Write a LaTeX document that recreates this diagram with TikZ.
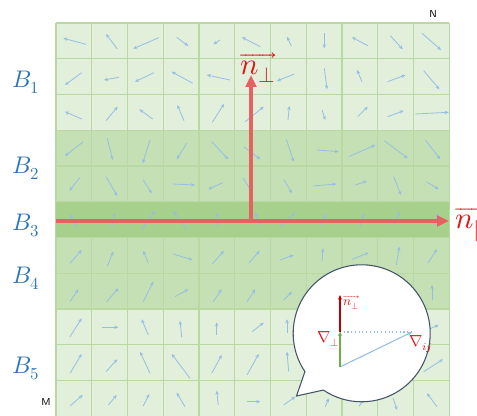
\documentclass[tikz,border=0pt]{standalone}
\usepackage{unicode-math}
\usetikzlibrary{arrows.meta}
\definecolor{cellL}{RGB}{226,239,218}
\definecolor{cellM}{RGB}{197,224,180}
\definecolor{cellD}{RGB}{167,208,140}
\definecolor{gridc}{RGB}{184,218,162}
\definecolor{vecc}{RGB}{150,190,228}
\definecolor{bigred}{RGB}{230,98,98}
\definecolor{labred}{RGB}{224,20,20}
\definecolor{bblue}{RGB}{46,117,182}
\definecolor{dred}{RGB}{192,0,0}
\definecolor{gline}{RGB}{112,173,71}
\definecolor{bubline}{RGB}{68,84,106}
\begin{document}
\begin{tikzpicture}[x=0.75pt,y=0.75pt,
  vec/.style={draw=vecc,line width=0.6pt,-{Stealth[length=3pt,width=2.6pt]}},
  gridline/.style={draw=gridc,line width=1pt},
  bigarrow/.style={draw=bigred,line width=3pt,-{Triangle[length=9pt,width=8pt]}},
  blabel/.style={text=bblue,inner sep=0pt,anchor=base west,font=\fontsize{18}{20}\selectfont},
  redlabel/.style={text=labred,inner sep=0pt,anchor=base west},
  corner/.style={inner sep=0pt,font=\sffamily\fontsize{7.5}{9}\selectfont},
  bubble/.style={draw=bubline,fill=white,line width=0.8pt}]
\useasboundingbox (0,0) rectangle (477,416);
\begin{scope}
\clip (0,0) rectangle (477,416);
% bands
\fill[cellL] (56,-0.25) rectangle (449.25,393);
\fill[cellM] (56,214.25) rectangle (449.25,285.75);
\fill[cellM] (56,107) rectangle (449.25,178.5);
% grid
\foreach \i in {0,...,11}
  \draw[gridline] ({56+\i*35.75},-0.25) -- ({56+\i*35.75},393);
\foreach \j in {0,...,11}
  \draw[gridline] (56,{393-\j*35.75}) -- (449.25,{393-\j*35.75});
\fill[cellD] (56,178.5) rectangle (449.25,214.25);
% vector field
\foreach \a/\b/\c/\d in {
 86/44.3/63.3/38.3, 117.3/49/106/34, 158.7/37.7/133.3/48.7, 176.7/37.3/188.3/46, 220/40/213.3/44.3,
 260.3/46.7/242/37.3, 291.3/46/287/36.7, 324.3/33.3/324.3/48.3, 367.7/45.7/352/37.3, 390.3/35.7/402.7/49.3, 422/33.3/441/50,
 81.7/72.7/65/85, 119/77.3/104/80, 154/72.7/135/81.7, 192.7/83.3/171.7/71.7, 230/80/206.7/75,
 294.3/74/277/81, 324.3/68.3/327/89.3, 362/81.7/357/70, 387.7/81.7/405.3/75, 423.7/70.7/439.3/89.3,
 81.7/119/65/111.7, 106/120.7/117.7/106.7, 152.7/119/139.3/109.3, 184/120.7/177.3/105, 212.3/122.3/224/104,
 245.3/121.7/263.7/106.7, 288/120/289.3/106, 322/110/325.3/120, 357.7/116.7/367.7/106.7, 387.7/116.7/403.7/110.7, 415.3/114/448.7/112.3,
 83.3/141.7/65/156, 107.3/138.3/112.7/160, 150/140/142.7/163.3, 186.7/143.3/176.7/159.3, 211.7/141.7/228.3/159.3,
 243.7/146.7/260.3/159.3, 286.3/139.3/293.7/161.7, 317/150/338.7/151.7, 348.7/156.7/375.3/145, 384.3/140.7/407.7/158.3, 425.3/140/440.3/159.3,
 80/177.3/69.3/190.7, 106/176.7/117.3/196, 143.3/180/151.7/193.3, 172.7/184/195/185, 222.7/182.7/208.3/189.3,
 243/178/252/192, 283.7/179.3/292/193.3, 313/186/336.3/184, 355.3/185/367/181, 393.7/176.7/401/195, 426.3/181.7/438.7/189.3,
 76.7/228.3/70/214, 111.7/226.7/115/212.7, 141.7/230/155/210.7, 186.7/229.3/173.3/210.7, 217.3/226.7/217.3/212.7,
 260/225/255.3/212.7, 280.3/226.7/295.3/212.7, 320.3/225/326.3/214, 360.3/226.7/363.7/213.3, 393.7/225/399.7/211.7, 433.7/225/438/213.3,
 70/263.3/81.7/250, 107.3/266/113.3/251.7, 148.3/263.3/143.3/250.7, 173.3/254/192.7/260, 212.3/264/224/250.7,
 248.7/263.3/259.7/250.7, 280.3/260/293.7/255, 322/261.7/323/248.3, 352/259.3/368.7/252.7, 396.3/265/399.3/246.7, 427.7/263.3/437/249.3,
 70/301.7/78.3/289.3, 106.7/301.7/118.3/288.3, 143.3/301.7/153.3/281.7, 175/296.7/188.3/289.3, 213.3/301.7/221.7/289.3,
 247/301.7/255.3/289.3, 283.7/300/292/291.7, 322/300/330/288, 358/300/366/290, 395/300/398/288, 432/300/432/285,
 70/336.7/81.7/318.3, 101.7/327.3/118.3/327.3, 148.3/335/141.7/319.3, 181.7/337.3/180/320.7, 216.7/335/216.7/322.3,
 252/331.7/263.7/322.7, 287/333.3/287/319.3, 427/330/438.7/325,
 70/373.3/81.7/354, 106/371.7/117.3/359.3, 150/373.3/140/351.7, 190/378.3/171.7/354, 211.7/373.3/221.7/355,
 247/375/258.7/354, 288.7/371.7/287/351.7, 423.7/371.7/443/359.3,
 70/406/82.7/395, 108.3/405/116.7/395, 143.3/406/149.3/394, 185/406.7/176.7/392.7, 218.3/405/216.7/390.7,
 247/401.7/260.3/401.7, 283.7/405/295.3/396.7, 325.3/406.7/328.7/398.3, 359/406/366/398, 393/398/397/410, 437/406.7/427/393.3}
  \draw[vec] (\a,{416-\b}) -- (\c,{416-\d});
% big red axes
\coordinate (L) at (56,195);
\coordinate (R) at (449,195);
\coordinate (O) at (251,195);
\coordinate (T) at (251,341);
\draw[bigarrow] (L) -- (R);
\draw[bigarrow] (O) -- (T);
\node[redlabel,font=\fontsize{23}{26}\selectfont] (npar) at (455,187) {$\overrightarrow{n_{\parallel}}$};
\node[redlabel,font=\fontsize{23}{26}\selectfont] (nperp) at (240,341.5) {$\overrightarrow{n_{\perp}}$};
% speech bubble
\coordinate (C) at (361.7,82.7);
\coordinate (tip) at (296.5,20);
\draw[bubble] ([shift={(214:68.5)}]C) arc[start angle=214,end angle=-124,radius=68.5] -- (tip) -- cycle;
\coordinate (P0) at (340,49);
\coordinate (PJ) at (340,84);
\coordinate (PT) at (340,121);
\coordinate (PD) at (412,84);
\draw[draw=vecc,line width=0.8pt,dotted] (PJ) -- (PD);
\draw[draw=vecc,line width=0.8pt,-{Stealth[length=3.5pt,width=3pt]}] (P0) -- (PD);
\draw[draw=gline,line width=1.1pt,-{Stealth[length=3pt,width=3pt]}] (P0) -- (PJ);
\draw[draw=dred,line width=1.1pt,-{Stealth[length=3.5pt,width=3pt]}] (PJ) -- (PT);
\node[redlabel,font=\fontsize{10}{12}\selectfont] (nsmall) at (343,110) {$\overrightarrow{n_{\perp}}$};
\node[redlabel,font=\fontsize{12}{14}\selectfont] (gperp) at (317,73) {$\nabla_{\perp}$};
\node[redlabel,font=\fontsize{12}{14}\selectfont] (gij) at (409,69) {$\nabla_{ij}$};
% band labels
\node[blabel] (B1) at (12.5,328.7) {$B_1$};
\node[blabel] (B2) at (12.5,242) {$B_2$};
\node[blabel] (B3) at (12.5,185) {$B_3$};
\node[blabel] (B4) at (12.5,132) {$B_4$};
\node[blabel] (B5) at (12.5,42) {$B_5$};
\node[corner] (N) at (433,402) {N};
\node[corner] (M) at (46,14) {M};
\end{scope}
\end{tikzpicture}
\end{document}
